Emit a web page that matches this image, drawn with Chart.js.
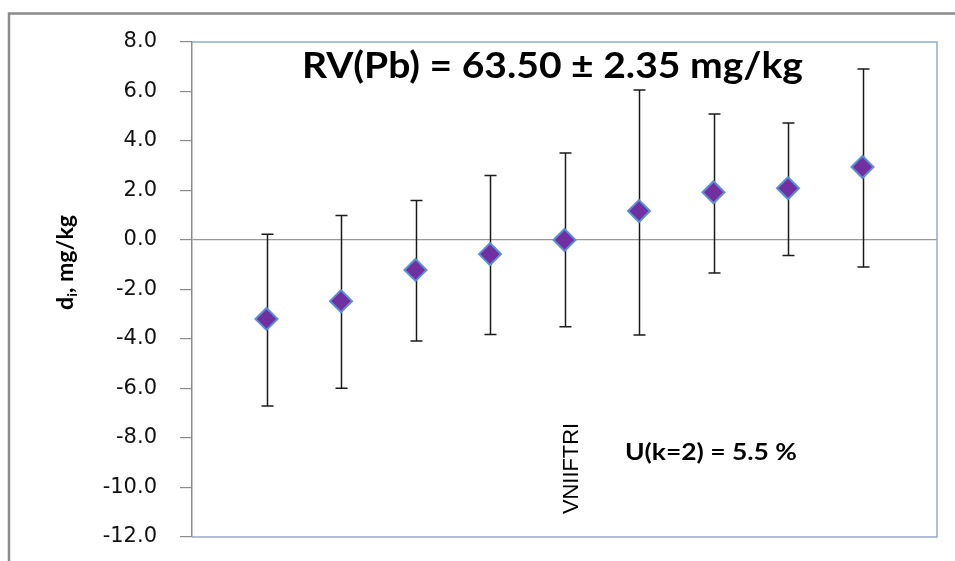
<!DOCTYPE html>
<html>
<head>
<meta charset="utf-8">
<script src="https://cdn.jsdelivr.net/npm/chart.js@4.4.1/dist/chart.umd.min.js"></script>
<style>
html,body{margin:0;padding:0;background:#fff;}
#wrap{width:955px;height:561px;position:relative;}
</style>
</head>
<body>
<div id="wrap"><canvas id="c" width="955" height="561"></canvas></div>
<script>
// labs 1..9, deviation from reference value and expanded uncertainty bounds
const labPos=[1,2,3,4,5,6,7,8,9];
const devValues=[-3.19,-2.47,-1.21,-0.57,0.0,1.17,1.93,2.09,2.95];
const upperBounds=[0.23,0.99,1.60,2.61,3.52,6.06,5.09,4.73,6.91];
const lowerBounds=[-6.71,-5.99,-4.08,-3.82,-3.51,-3.84,-1.33,-0.63,-1.09];
const yTicks=[8,6,4,2,0,-2,-4,-6,-8,-10,-12];
const titleText='RV(Pb) = 63.50 \u00b1 2.35 mg/kg';
const uncText='U(k=2) = 5.5 %';
const labName='VNIIFTRI';

const CHART_LEFT=192;

// draw text stretched/squeezed to a given width
function fitText(ctx,text,x,y,font,w){
  ctx.save();
  ctx.font=font;
  const m=ctx.measureText(text).width;
  ctx.translate(x,y);
  ctx.scale(w/m,1);
  ctx.fillText(text,0,0);
  ctx.restore();
}

const framePlugin={
  id:'frame',
  beforeDraw(chart){
    const ctx=chart.ctx;
    ctx.save();
    ctx.strokeStyle='#8c8c8c';
    ctx.lineWidth=2.5;
    ctx.beginPath();
    ctx.moveTo(9,561);ctx.lineTo(9,13.5);ctx.lineTo(955,13.5);
    ctx.stroke();
    ctx.restore();
  },
  beforeDatasetsDraw(chart){
    const ctx=chart.ctx, a=chart.chartArea;
    const xs=chart.scales.x, ys=chart.scales.y;
    ctx.save();
    // plot border
    ctx.strokeStyle='#95abc8';
    ctx.lineWidth=1.5;
    ctx.beginPath();
    ctx.moveTo(a.left,a.top);ctx.lineTo(a.right,a.top);ctx.lineTo(a.right,a.bottom);ctx.lineTo(a.left,a.bottom);
    ctx.stroke();
    // error bars
    ctx.strokeStyle='#1a1a1a';
    ctx.lineWidth=1.5;
    labPos.forEach((p,i)=>{
      const x=Math.round(xs.getPixelForValue(p))+0.5;
      const yt=ys.getPixelForValue(upperBounds[i]);
      const yb=ys.getPixelForValue(lowerBounds[i]);
      ctx.beginPath();
      ctx.moveTo(x,yt);ctx.lineTo(x,yb);
      ctx.moveTo(x-6,yt);ctx.lineTo(x+6,yt);
      ctx.moveTo(x-6,yb);ctx.lineTo(x+6,yb);
      ctx.stroke();
    });
    ctx.restore();
  },
  afterDraw(chart){
    const ctx=chart.ctx;
    ctx.save();
    ctx.fillStyle='#000';
    ctx.textBaseline='alphabetic';
    ctx.textAlign='left';
    fitText(ctx,titleText,302,78,'bold 36px Lato',501);
    fitText(ctx,uncText,625,460,'bold 23px Lato',172);
    // lab name, rotated
    ctx.save();
    ctx.translate(578,514);
    ctx.rotate(-Math.PI/2);
    fitText(ctx,labName,0,0,'22px "Liberation Sans"',91);
    ctx.restore();
    // y axis title with subscript
    ctx.save();
    ctx.translate(73,310);
    ctx.rotate(-Math.PI/2);
    const big='bold 22px Lato', small='bold 14px Lato';
    ctx.font=big; const w1=ctx.measureText('d').width;
    ctx.font=small; const w2=ctx.measureText('i').width;
    ctx.font=big; const w3=ctx.measureText(', mg/kg').width;
    const s=95/(w1+w2+w3);
    ctx.scale(s,1);
    ctx.font=big; ctx.fillText('d',0,0);
    ctx.font=small; ctx.fillText('i',w1,4);
    ctx.font=big; ctx.fillText(', mg/kg',w1+w2,0);
    ctx.restore();
    ctx.restore();
  }
};

new Chart(document.getElementById('c'),{
  type:'scatter',
  data:{
    datasets:[{
      data:labPos.map((p,i)=>({x:p,y:devValues[i]})),
      pointStyle:'rectRot',
      pointRadius:11,
      pointHoverRadius:11,
      pointBackgroundColor:'#7030a0',
      pointBorderColor:'#5b8fd6',
      pointBorderWidth:2
    }]
  },
  options:{
    responsive:false,
    animation:false,
    events:[],
    layout:{padding:{left:0,right:18,top:42,bottom:24}},
    plugins:{legend:{display:false},tooltip:{enabled:false}},
    scales:{
      x:{type:'linear',min:0,max:10,display:false},
      y:{
        min:-12,max:8,
        afterFit(scale){
          scale.width=CHART_LEFT;
          scale.paddingTop=0;
          scale.paddingBottom=0;
        },
        afterBuildTicks(scale){ scale.ticks=yTicks.map(v=>({value:v})); },
        border:{display:true,color:'#8c8c8c',width:1.5},
        grid:{
          color:c=>c.tick && c.tick.value===0 ? '#999999' : 'rgba(0,0,0,0)',
          lineWidth:1.2,
          tickColor:'#8c8c8c',
          tickLength:12,
          drawOnChartArea:true
        },
        ticks:{
          padding:23,
          color:'#111',
          font:{family:'"DejaVu Sans"',size:21},
          callback:v=>v.toFixed(1)
        }
      }
    }
  },
  plugins:[framePlugin]
});
</script>
</body>
</html>
